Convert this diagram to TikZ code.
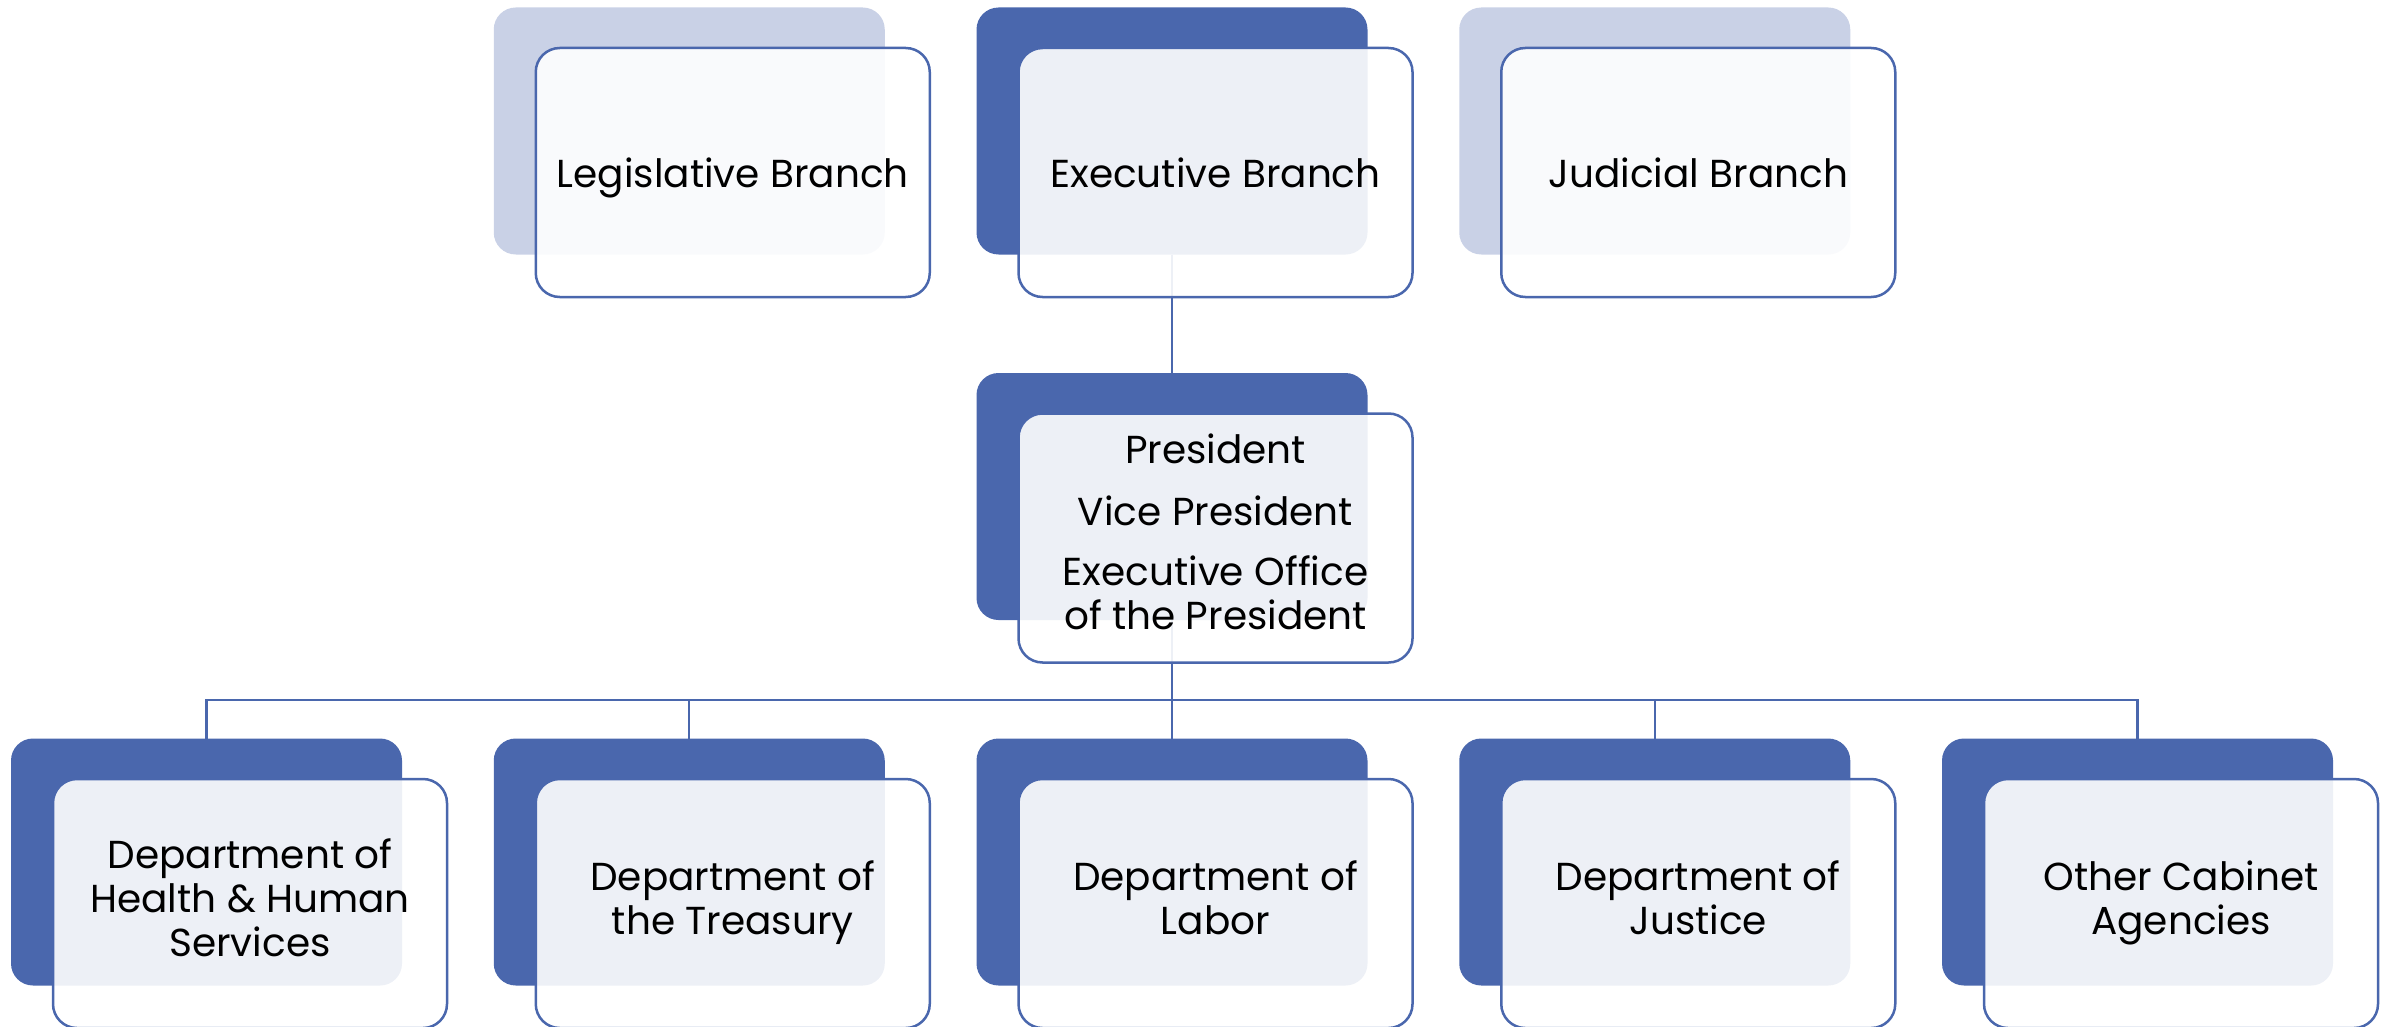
\documentclass[tikz,border=0pt]{standalone}
\usepackage{fontspec}
\setmainfont{Poppins}
\usepackage{xcolor}
\usetikzlibrary{positioning, calc}
\definecolor{orgblue}{RGB}{74,103,173}
\newcommand{\orgtop}{\rule{0pt}{43pt}}
\newcommand{\orgbot}{\rule[-12pt]{0pt}{12pt}}

\begin{document}
\begin{tikzpicture}[x=1pt, y=-1pt]
	\tikzstyle{backbox}=[
	rectangle,
	rounded corners=22pt,
	minimum width=391pt,
	minimum height=247pt,
	inner sep=0pt,
	outer sep=0pt,
	anchor=north west,
	fill=orgblue
	]
	\tikzstyle{palebox}=[backbox, fill=orgblue!30]
	\tikzstyle{frontbox}=[
	rectangle,
	draw=orgblue,
	line width=2.5pt,
	rounded corners=24pt,
	fill=white,
	fill opacity=0.9,
	text opacity=1,
	minimum width=394pt,
	minimum height=249pt,
	inner sep=0pt,
	outer sep=0pt,
	align=center,
	font=\fontsize{39}{44}\selectfont,
	execute at begin node=\orgtop,
	execute at end node=\orgbot
	]
	\tikzstyle{link}=[draw=orgblue, line width=2.2pt]
	\useasboundingbox (0,0) rectangle (2392,1027);
	\node[palebox] (leg) at (493.75,7.5) {};
	\node[backbox] (exe) at (976.5,7.5) {};
	\node[palebox] (jud) at (1459.25,7.5) {};
	\node[backbox] (pres) at (976.5,373) {};
	\node[backbox] (hhs) at (11,738.5) {};
	\node[backbox] (tre) at (493.75,738.5) {};
	\node[backbox] (lab) at (976.5,738.5) {};
	\node[backbox] (jus) at (1459.25,738.5) {};
	\node[backbox] (oth) at (1942,738.5) {};
	\draw[link] (exe.south) -- (pres.north);
	\coordinate (bus) at ($(pres.south)+(0,80)$);
	\draw[link] (pres.south) -- (bus);
	\foreach \d in {hhs,tre,lab,jus,oth}
		\draw[link] (bus) -| (\d.north);
	\node[frontbox, below right=40.5pt and 42pt of leg.north west] (legF) {Legislative Branch};
	\node[frontbox, below right=40.5pt and 42pt of exe.north west] (exeF) {Executive Branch};
	\node[frontbox, below right=40.5pt and 42pt of jud.north west] (judF) {Judicial Branch};
	\node[frontbox, below right=40.5pt and 42pt of pres.north west] (presF) {President\\[18pt]Vice President\\[16pt]Executive Office\\of the President};
	\node[frontbox, below right=40.5pt and 42pt of hhs.north west] (hhsF) {Department of\\Health \& Human\\Services};
	\node[frontbox, below right=40.5pt and 42pt of tre.north west] (treF) {Department of\\the Treasury};
	\node[frontbox, below right=40.5pt and 42pt of lab.north west] (labF) {Department of\\Labor};
	\node[frontbox, below right=40.5pt and 42pt of jus.north west] (jusF) {Department of\\Justice};
	\node[frontbox, below right=40.5pt and 42pt of oth.north west] (othF) {Other Cabinet\\Agencies};
\end{tikzpicture}
\end{document}
